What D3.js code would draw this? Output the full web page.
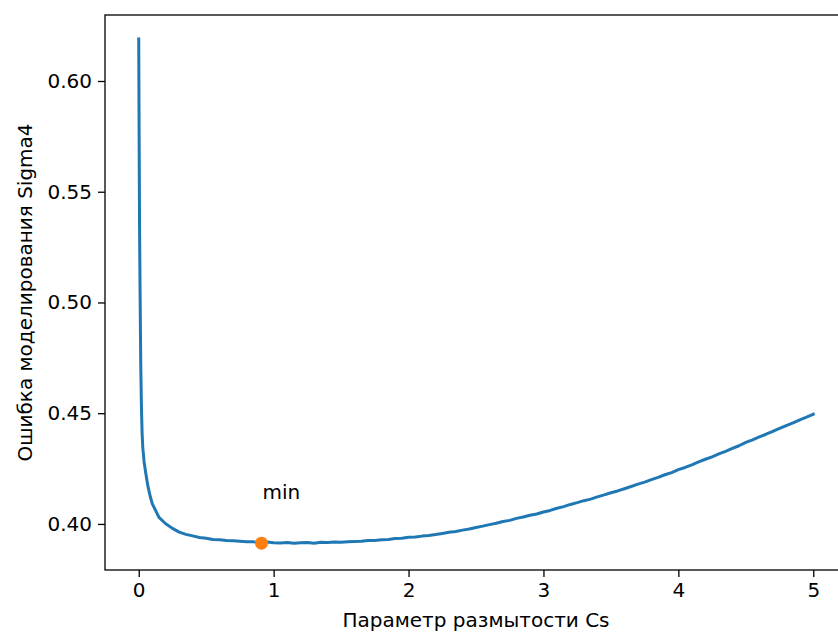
<!DOCTYPE html>
<html>
<head>
<meta charset="utf-8">
<script src="https://cdn.jsdelivr.net/npm/d3@7"></script>
<style>
  html, body { margin: 0; padding: 0; background: #fff; }
  svg { display: block; }
  text { font-family: "DejaVu Sans", sans-serif; fill: #000; }
</style>
</head>
<body>
<svg id="chart" width="838" height="633"></svg>
<script>
// ---- data ----
const cs = [0, 0.003, 0.006, 0.01, 0.015, 0.02, 0.025, 0.03, 0.04, 0.05, 0.06, 0.07, 0.085,
  0.10, 0.15, 0.20, 0.25, 0.30, 0.35, 0.40, 0.45, 0.50, 0.55, 0.60, 0.65, 0.70, 0.75, 0.80, 0.85, 0.90, 0.95,
  1.00, 1.05, 1.10, 1.15, 1.20, 1.25, 1.30, 1.35, 1.40, 1.45, 1.50, 1.55, 1.60, 1.65, 1.70, 1.75, 1.80, 1.85, 1.90, 1.95,
  2.00, 2.05, 2.10, 2.15, 2.20, 2.25, 2.30, 2.35, 2.40, 2.45, 2.50, 2.55, 2.60, 2.65, 2.70, 2.75, 2.80, 2.85, 2.90, 2.95,
  3.00, 3.05, 3.10, 3.15, 3.20, 3.25, 3.30, 3.35, 3.40, 3.45, 3.50, 3.55, 3.60, 3.65, 3.70, 3.75, 3.80, 3.85, 3.90, 3.95,
  4.00, 4.05, 4.10, 4.15, 4.20, 4.25, 4.30, 4.35, 4.40, 4.45, 4.50, 4.55, 4.60, 4.65, 4.70, 4.75, 4.80, 4.85, 4.90, 4.95, 5.00];
const sigma4 = [0.6190, 0.5750, 0.5350, 0.5050, 0.4720, 0.4530, 0.4410, 0.4345, 0.4280, 0.4238, 0.4200, 0.4165, 0.4125,
  0.4092, 0.4030, 0.4001, 0.3980, 0.3963, 0.3953, 0.3946, 0.3939, 0.3935, 0.3930, 0.3929, 0.3925, 0.3924, 0.3922, 0.3920, 0.3919, 0.3916, 0.3918,
  0.3915, 0.3914, 0.3916, 0.3913, 0.3915, 0.3916, 0.3913, 0.3917, 0.3916, 0.3918, 0.3917, 0.3920, 0.3921, 0.3922, 0.3925, 0.3925, 0.3929, 0.3930, 0.3934, 0.3935,
  0.3940, 0.3941, 0.3945, 0.3948, 0.3952, 0.3957, 0.3962, 0.3966, 0.3972, 0.3977, 0.3984, 0.3990, 0.3997, 0.4003, 0.4011, 0.4016, 0.4025, 0.4031, 0.4039, 0.4045,
  0.4054, 0.4061, 0.4071, 0.4078, 0.4088, 0.4096, 0.4105, 0.4112, 0.4122, 0.4131, 0.4141, 0.4149, 0.4159, 0.4169, 0.4180, 0.4189, 0.4200, 0.4210, 0.4222, 0.4232,
  0.4245, 0.4255, 0.4267, 0.4280, 0.4292, 0.4303, 0.4316, 0.4328, 0.4341, 0.4353, 0.4368, 0.4380, 0.4393, 0.4405, 0.4418, 0.4431, 0.4444, 0.4456, 0.4470, 0.4482, 0.4495];
const minPoint = [0.91, 0.3913];
const xTicks = [0, 1, 2, 3, 4, 5];
const yTicks = [0.40, 0.45, 0.50, 0.55, 0.60];
const xLabel = "Параметр размытости Cs";
const yLabel = "Ошибка моделирования Sigma4";
const minLabel = "min";

// ---- layout ----
const mLeft = 105, mTop = 15, plotW = 742, plotH = 555;
const fontSize = 20;
const svg = d3.select("#chart");

const x = d3.scaleLinear().domain([-0.25, 5.25]).range([mLeft, mLeft + plotW]);
const y = d3.scaleLinear().domain([0.3792, 0.6298]).range([mTop + plotH, mTop]);

const g = svg.append("g");

// line
const data = cs.map((c, i) => [c, sigma4[i]]);
g.append("path")
  .datum(data)
  .attr("fill", "none")
  .attr("stroke", "#1f77b4")
  .attr("stroke-width", 3)
  .attr("stroke-linejoin", "round")
  .attr("stroke-linecap", "square")
  .attr("d", d3.line().x(d => x(d[0])).y(d => y(d[1])));

// min marker
g.append("circle")
  .attr("cx", x(minPoint[0]))
  .attr("cy", y(minPoint[1]))
  .attr("r", 6.5)
  .attr("fill", "#ff7f0e");

g.append("text")
  .attr("x", x(minPoint[0]) + 1)
  .attr("y", y(minPoint[1] + 0.02))
  .attr("font-size", fontSize)
  .text(minLabel);

// axes
const xAxis = d3.axisBottom(x).tickValues(xTicks).tickFormat(d3.format("d")).tickSizeInner(7).tickSizeOuter(0).tickPadding(6);
const yAxis = d3.axisLeft(y).tickValues(yTicks).tickFormat(d3.format(".2f")).tickSizeInner(7).tickSizeOuter(0).tickPadding(6);

const gx = svg.append("g").attr("transform", `translate(0,${mTop + plotH})`).call(xAxis);
const gy = svg.append("g").attr("transform", `translate(${mLeft},0)`).call(yAxis);
[gx, gy].forEach(a => {
  a.select(".domain").remove();
  a.selectAll(".tick line").attr("stroke", "#000").attr("stroke-width", 1.3);
  a.selectAll(".tick text").attr("font-size", fontSize).attr("fill", "#000").style("font-family", "DejaVu Sans, sans-serif");
});

// frame
svg.append("rect")
  .attr("x", mLeft).attr("y", mTop)
  .attr("width", plotW).attr("height", plotH)
  .attr("fill", "none").attr("stroke", "#000").attr("stroke-width", 1.3);

// axis labels
svg.append("text")
  .attr("x", (x(-0.25) + x(5.25)) / 2)
  .attr("y", 627)
  .attr("text-anchor", "middle")
  .attr("font-size", fontSize)
  .text(xLabel);

svg.append("text")
  .attr("transform", `translate(32,${mTop + plotH / 2}) rotate(-90)`)
  .attr("text-anchor", "middle")
  .attr("font-size", fontSize)
  .text(yLabel);
</script>
</body>
</html>
